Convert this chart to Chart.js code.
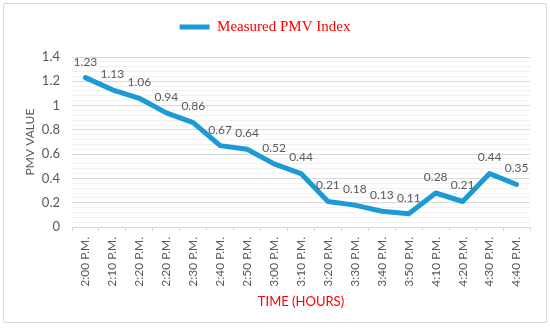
<!DOCTYPE html>
<html>
<head>
<meta charset="utf-8">
<script src="https://cdn.jsdelivr.net/npm/chart.js@4.4.1/dist/chart.umd.min.js"></script>
<style>
  html, body { margin: 0; padding: 0; background: #fff; }
  #wrap { position: relative; width: 550px; height: 332px; }
  #frame { position: absolute; left: 3px; top: 3px; width: 542px; height: 318px; border: 1px solid #d9d9d9; border-radius: 2px; }
  #chartId { position: absolute; left: 0; top: 0; }
</style>
</head>
<body>
<div id="wrap"><div id="frame"></div><canvas id="chartId"></canvas></div>
<script>
const times = [
  "2:00 P.M.", "2:10 P.M.", "2:20 P.M.", "2:20 P.M.", "2:30 P.M.", "2:40 P.M.",
  "2:50 P.M.", "3:00 P.M.", "3:10 P.M.", "3:20 P.M.", "3:30 P.M.", "3:40 P.M.",
  "3:50 P.M.", "4:10 P.M.", "4:20 P.M.", "4:30 P.M.", "4:40 P.M."
];
const pmvValues = [1.23, 1.13, 1.06, 0.94, 0.86, 0.67, 0.64, 0.52, 0.44, 0.21, 0.18, 0.13, 0.11, 0.28, 0.21, 0.44, 0.35];
const yMajorTicks = [0, 0.2, 0.4, 0.6, 0.8, 1, 1.2, 1.4];

const gray = "#595959";
const lineBlue = "#1c9ad6";

function isMajor(v) {
  return yMajorTicks.some((m) => Math.abs(m - v) < 1e-6);
}

// value labels above each point (no datalabels plugin offline)
const pointLabels = {
  id: "pointLabels",
  afterDatasetsDraw(chart) {
    const ctx = chart.ctx;
    const meta = chart.getDatasetMeta(0);
    ctx.save();
    ctx.font = "12px Lato";
    ctx.fillStyle = gray;
    ctx.textAlign = "center";
    ctx.textBaseline = "middle";
    meta.data.forEach((pt, i) => {
      ctx.fillText(String(pmvValues[i]), pt.x, pt.y - 16);
    });
    ctx.restore();
  },
};

const ctx = document.getElementById("chartId");
const chart = new Chart(ctx, {
  type: "line",
  data: {
    labels: times,
    datasets: [
      {
        label: "Measured PMV Index",
        data: pmvValues,
        borderColor: lineBlue,
        backgroundColor: lineBlue,
        borderWidth: 5,
        borderCapStyle: "round",
        borderJoinStyle: "round",
        pointRadius: 0,
        tension: 0,
      },
    ],
  },
  options: {
    responsive: true,
    maintainAspectRatio: false,
    devicePixelRatio: 1,
    animation: false,
    layout: { padding: { top: 6, right: 20, bottom: 0, left: 0 } },
    plugins: {
      tooltip: { enabled: false },
      legend: {
        position: "top",
        labels: {
          usePointStyle: true,
          pointStyle: "line",
          pointStyleWidth: 30,
          padding: 13.5,
          color: "#ff0000",
          font: { family: "Liberation Serif", size: 15 },
        },
      },
      // empty spacer box between legend and plot
      subtitle: {
        display: true,
        text: "",
        position: "top",
        weight: 500,
        padding: 0,
        font: { size: 12.5, lineHeight: 1 },
      },
    },
    scales: {
      x: {
        offset: true,
        afterFit: (scale) => { scale.height = 105; },
        grid: { offset: true, drawOnChartArea: false, drawTicks: true, tickLength: 4, color: "#d9d9d9" },
        border: { color: "#d9d9d9" },
        ticks: {
          autoSkip: false,
          minRotation: 90,
          maxRotation: 90,
          padding: 6,
          color: gray,
          font: { family: "Lato", size: 12 },
        },
        title: {
          display: true,
          text: "TIME (HOURS)",
          color: "#ff0000",
          font: { family: "Lato", size: 13 },
          padding: { top: 0, bottom: 22 },
        },
      },
      y: {
        min: 0,
        max: 1.4,
        afterFit: (scale) => { scale.width = 72; },
        border: { display: false },
        grid: {
          drawTicks: false,
          color: (c) => (isMajor(c.tick.value) ? "#d9d9d9" : "#f1f1f1"),
        },
        ticks: {
          stepSize: 0.04,
          autoSkip: false,
          padding: 12,
          color: gray,
          font: { family: "Lato", size: 13 },
          callback: (v) => (isMajor(v) ? String(Math.round(v * 10) / 10) : ""),
        },
        title: {
          display: true,
          text: "PMV VALUE",
          color: gray,
          font: { family: "Lato", size: 12 },
          padding: { top: 23, bottom: 0 },
        },
      },
    },
  },
  plugins: [pointLabels],
});
</script>
</body>
</html>
